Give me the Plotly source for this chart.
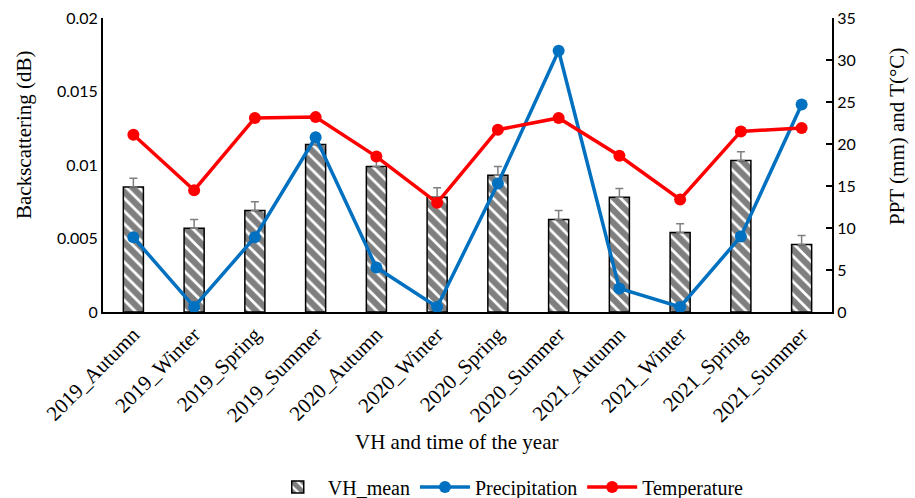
import plotly.graph_objects as go
from plotly.subplots import make_subplots

seasons = ["2019_Autumn", "2019_Winter", "2019_Spring", "2019_Summer",
           "2020_Autumn", "2020_Winter", "2020_Spring", "2020_Summer",
           "2021_Autumn", "2021_Winter", "2021_Spring", "2021_Summer"]
vh_mean = [0.0085, 0.0057, 0.0069, 0.0114, 0.0099, 0.0078,
           0.0093, 0.0063, 0.0078, 0.0054, 0.0103, 0.0046]
vh_err = [0.0006, 0.0006, 0.0006, 0.0006, 0.0006, 0.00065,
          0.0006, 0.0006, 0.0006, 0.0006, 0.0006, 0.0006]
precipitation = [8.9, 0.6, 8.9, 20.8, 5.3, 0.6, 15.3, 31.1, 2.8, 0.6, 9.0, 24.7]
temperature = [21.1, 14.5, 23.1, 23.2, 18.5, 13.0, 21.7, 23.1, 18.6, 13.4, 21.5, 21.9]

left_ticks = [0, 0.005, 0.01, 0.015, 0.02]
left_ticktext = ["0", "0.005", "0.01", "0.015", "0.02"]
right_ticks = [0, 5, 10, 15, 20, 25, 30, 35]

SERIF = "Liberation Serif"
SANS = "Lato"

fig = make_subplots(specs=[[{"secondary_y": True}]])

fig.add_trace(go.Bar(
    x=seasons, y=vh_mean, name="VH_mean", width=0.33,
    marker=dict(color="white", line=dict(color="black", width=1.5),
                pattern=dict(shape="\\", fgcolor="black", bgcolor="white",
                             size=9, solidity=0.7)),
    error_y=dict(type="data", symmetric=False, array=vh_err,
                 arrayminus=[0] * len(vh_err), color="#7f7f7f",
                 thickness=1.5, width=4),
), secondary_y=False)

fig.add_trace(go.Scatter(
    x=seasons, y=precipitation, name="Precipitation", mode="lines+markers",
    line=dict(color="#0070C0", width=3.5),
    marker=dict(color="#0070C0", size=12),
), secondary_y=True)

fig.add_trace(go.Scatter(
    x=seasons, y=temperature, name="Temperature", mode="lines+markers",
    line=dict(color="#FF0000", width=3.5),
    marker=dict(color="#FF0000", size=12),
), secondary_y=True)

fig.update_xaxes(
    domain=[0, 1], range=[-0.5, len(seasons) - 0.5],
    showline=True, linecolor="black", linewidth=2, ticks="",
    tickangle=-45, tickfont=dict(family=SERIF, size=21, color="black"),
    showgrid=False, automargin=False,
)
fig.update_yaxes(
    range=[0, 0.02], tickvals=left_ticks, ticktext=left_ticktext,
    showline=True, linecolor="black", linewidth=2, ticks="",
    showgrid=False, zeroline=False, automargin=False,
    tickfont=dict(family=SANS, size=16, color="black"),
    secondary_y=False,
)
fig.update_yaxes(
    range=[0, 35], tickvals=right_ticks,
    showline=True, linecolor="black", linewidth=2,
    ticks="inside", ticklen=6, tickwidth=2, tickcolor="black",
    showgrid=False, zeroline=False, automargin=False,
    tickfont=dict(family=SANS, size=16, color="black"),
    secondary_y=True,
)

fig.update_layout(
    width=915, height=498,
    margin=dict(l=103, r=83, t=18, b=186, autoexpand=False),
    plot_bgcolor="white", paper_bgcolor="white",
    showlegend=True,
    legend=dict(orientation="h", x=0.226, xanchor="left", y=-0.595,
                yanchor="middle", font=dict(family=SERIF, size=20, color="black"),
                itemwidth=50, traceorder="normal"),
    annotations=[
        dict(text="VH and time of the year", xref="paper", yref="paper",
             x=0.4856, y=-0.442, xanchor="center", yanchor="middle",
             showarrow=False, font=dict(family=SERIF, size=21, color="black")),
        dict(text="Backscattering (dB)", xref="paper", yref="paper",
             x=(24 - 103) / 729, y=(312 - 135) / 294, xanchor="center",
             yanchor="middle", textangle=-90, showarrow=False,
             font=dict(family=SERIF, size=21, color="black")),
        dict(text="PPT (mm) and T(°C)", xref="paper", yref="paper",
             x=(897 - 103) / 729, y=(312 - 137) / 294, xanchor="center",
             yanchor="middle", textangle=-90, showarrow=False,
             font=dict(family=SERIF, size=21, color="black")),
    ],
)

fig.write_html("out.html")
